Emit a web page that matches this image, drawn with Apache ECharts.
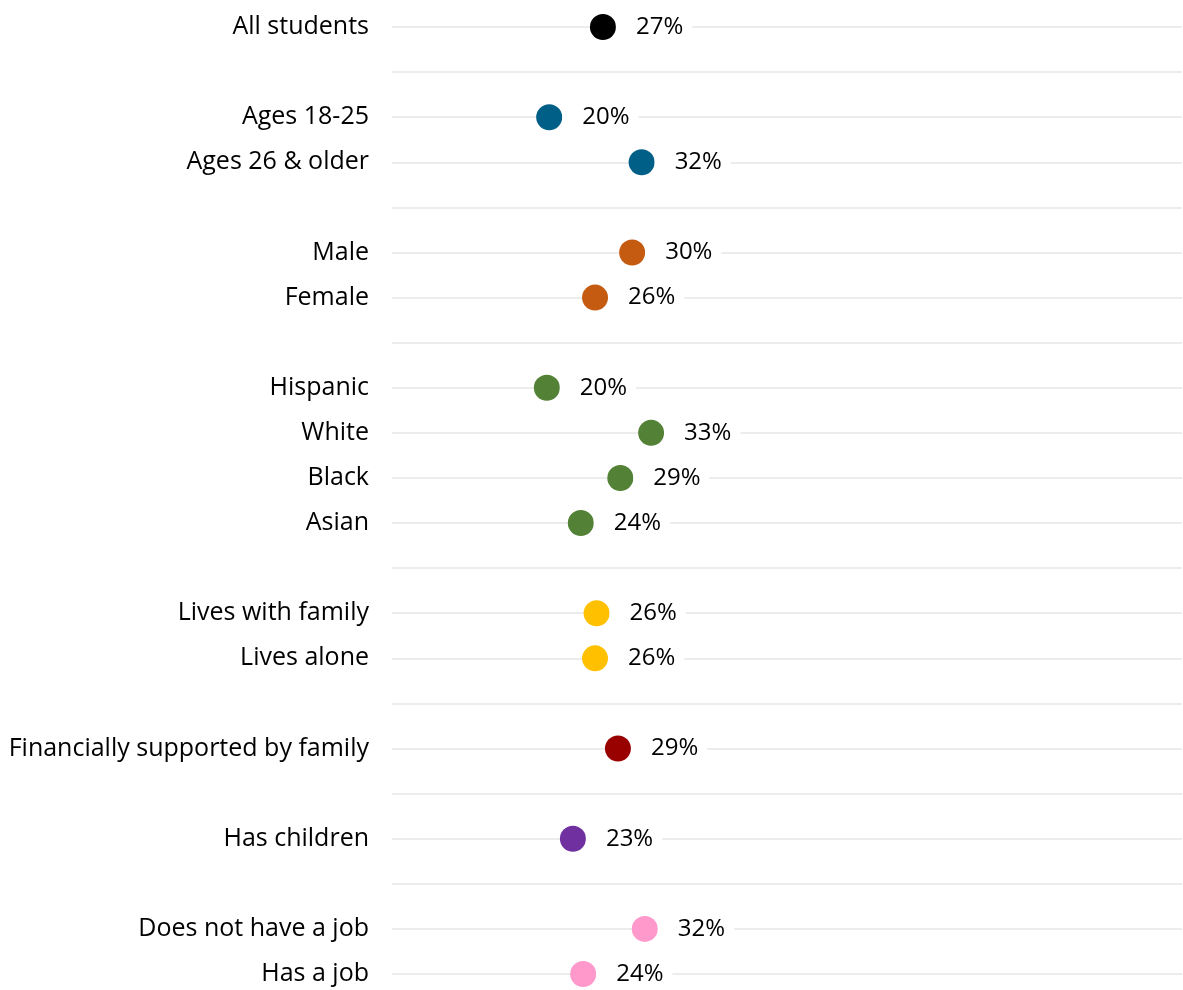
<!DOCTYPE html>
<html>
<head>
<meta charset="utf-8">
<script src="https://cdn.jsdelivr.net/npm/echarts@6/dist/echarts.min.js"></script>
<style>
  html, body { margin: 0; padding: 0; background: #fff; }
  #main { width: 1183px; height: 990px; }
</style>
</head>
<body>
<div id="main"></div>
<script>
// rows top to bottom, '' = spacer row
var categories = [
  'All students', '',
  'Ages 18-25', 'Ages 26 & older', '',
  'Male', 'Female', '',
  'Hispanic', 'White', 'Black', 'Asian', '',
  'Lives with family', 'Lives alone', '',
  'Financially supported by family', '',
  'Has children', '',
  'Does not have a job', 'Has a job'
];
var values = [
  26.7, null,
  19.9, 31.6, null,
  30.4, 25.7, null,
  19.6, 32.8, 28.9, 23.9, null,
  25.9, 25.7, null,
  28.6, null,
  22.9, null,
  32.0, 24.2
];
var dotColors = [
  '#000000', null,
  '#005F87', '#005F87', null,
  '#C55A11', '#C55A11', null,
  '#538135', '#538135', '#538135', '#538135', null,
  '#FFC000', '#FFC000', null,
  '#990000', null,
  '#7030A0', null,
  '#FF99CC', '#FF99CC'
];

var points = [];
values.forEach(function (v, i) {
  if (v == null) return;
  points.push({ value: [v, i], itemStyle: { color: dotColors[i], opacity: 1 } });
});

var chart = echarts.init(document.getElementById('main'));
chart.setOption({
  animation: false,
  textStyle: { fontFamily: 'Open Sans' },
  grid: { left: 392, right: 1, top: 27, bottom: 16 },
  xAxis: {
    type: 'value',
    min: 0,
    max: 100,
    show: false
  },
  yAxis: {
    type: 'category',
    data: categories,
    inverse: true,
    boundaryGap: false,
    axisLine: { show: false },
    axisTick: { show: false },
    axisLabel: {
      color: '#000', fontSize: 25, margin: 23, fontFamily: 'Open Sans',
      padding: [4, 0, 0, 0]
    },
    splitLine: { show: true, lineStyle: { color: '#ECECEC', width: 2 } }
  },
  series: [{
    type: 'scatter',
    symbolSize: 26,
    data: points,
    label: {
      show: true,
      position: 'right',
      distance: 0,
      color: '#000',
      fontSize: 24,
      fontFamily: 'Open Sans',
      backgroundColor: '#fff',
      padding: [9, 9, 3, 20],
      formatter: function (p) { return Math.round(p.value[0]) + '%'; }
    },
    emphasis: { disabled: true }
  }]
});
</script>
</body>
</html>
